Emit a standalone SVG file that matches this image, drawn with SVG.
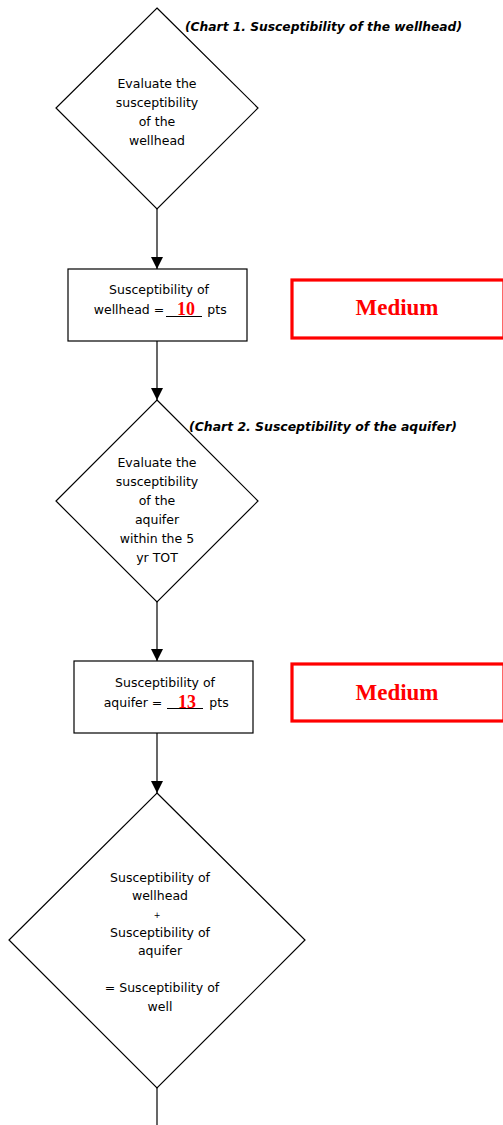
<svg xmlns="http://www.w3.org/2000/svg" width="503" height="1125" viewBox="0 0 503 1125">
<style>
.shape{fill:#fff;stroke:#000;stroke-width:1.2}
.red{fill:#fff;stroke:#ff0000;stroke-width:3.2}
.t{font-family:"DejaVu Sans",sans-serif;font-size:12.5px;fill:#000;text-anchor:middle}
.title{font-family:"DejaVu Sans",sans-serif;font-size:12px;font-weight:bold;font-style:italic;fill:#000}
.num{font-family:"Liberation Serif",serif;font-size:18px;font-weight:bold;fill:#ff0000;text-anchor:middle}
.med{font-family:"Liberation Serif",serif;font-size:23px;font-weight:bold;fill:#ff0000;text-anchor:middle}
.conn{stroke:#000;stroke-width:1.2;fill:none}
</style>
<defs>
<marker id="ah" markerWidth="12" markerHeight="12" refX="12" refY="6" orient="auto" markerUnits="userSpaceOnUse">
<path d="M0,0 L12,6 L0,12 Z" fill="#000"/>
</marker>
</defs>
<g id="connectors">
<line class="conn" x1="157" y1="209" x2="157" y2="269" marker-end="url(#ah)"/>
<line class="conn" x1="157" y1="341" x2="157" y2="400" marker-end="url(#ah)"/>
<line class="conn" x1="157" y1="602" x2="157" y2="661" marker-end="url(#ah)"/>
<line class="conn" x1="157" y1="733" x2="157" y2="793" marker-end="url(#ah)"/>
<line class="conn" x1="157" y1="1088" x2="157" y2="1125"/>
</g>
<g id="title1"><text class="title" x="185" y="31" textLength="277" lengthAdjust="spacingAndGlyphs">(Chart 1. Susceptibility of the wellhead)</text></g>
<g id="diamond1">
<polygon class="shape" points="157,8 258,108 157,209 56,108"/>
<text class="t" x="157" y="88">Evaluate the</text>
<text class="t" x="157" y="107">susceptibility</text>
<text class="t" x="157" y="126">of the</text>
<text class="t" x="157" y="145">wellhead</text>
</g>
<g id="box1">
<rect class="shape" x="68" y="269" width="179" height="72"/>
<text class="t" x="159" y="294">Susceptibility of</text>
<text class="t" x="129" y="314">wellhead =</text>
<line x1="166" y1="316.5" x2="202" y2="316.5" stroke="#000" stroke-width="1"/>
<text class="t" x="217" y="314">pts</text>
<text class="num" x="186" y="315">10</text>
</g>
<g id="medium1">
<rect class="red" x="292" y="280" width="212" height="58"/>
<text class="med" x="397" y="315">Medium</text>
</g>
<g id="title2"><text class="title" x="189" y="431" textLength="268" lengthAdjust="spacingAndGlyphs">(Chart 2. Susceptibility of the aquifer)</text></g>
<g id="diamond2">
<polygon class="shape" points="157,400 258,501 157,602 56,501"/>
<text class="t" x="157" y="467">Evaluate the</text>
<text class="t" x="157" y="486">susceptibility</text>
<text class="t" x="157" y="505">of the</text>
<text class="t" x="157" y="524">aquifer</text>
<text class="t" x="157" y="543">within the 5</text>
<text class="t" x="157" y="562">yr TOT</text>
</g>
<g id="box2">
<rect class="shape" x="74" y="661" width="179" height="72"/>
<text class="t" x="165" y="687">Susceptibility of</text>
<text class="t" x="133" y="707">aquifer =</text>
<line x1="167" y1="708.5" x2="203" y2="708.5" stroke="#000" stroke-width="1"/>
<text class="t" x="219" y="707">pts</text>
<text class="num" x="187" y="708">13</text>
</g>
<g id="medium2">
<rect class="red" x="292" y="664" width="212" height="57"/>
<text class="med" x="397" y="700">Medium</text>
</g>
<g id="diamond3">
<polygon class="shape" points="157,793 305,940 157,1088 9,940"/>
<text class="t" x="160" y="882">Susceptibility of</text>
<text class="t" x="160" y="900">wellhead</text>
<text class="t" x="157" y="918" style="font-size:8px">+</text>
<text class="t" x="160" y="937">Susceptibility of</text>
<text class="t" x="160" y="955">aquifer</text>
<text class="t" x="162" y="992">= Susceptibility of</text>
<text class="t" x="160" y="1011">well</text>
</g>
</svg>
